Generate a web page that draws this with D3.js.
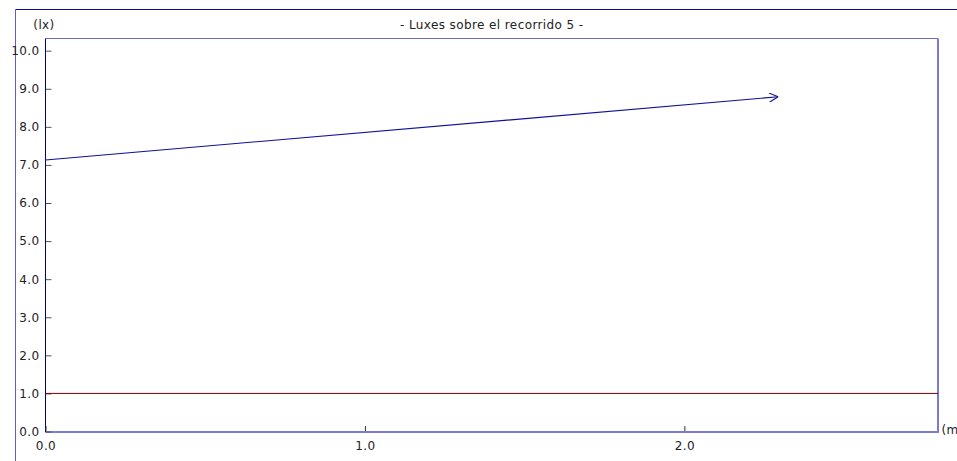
<!DOCTYPE html>
<html>
<head>
<meta charset="utf-8">
<script src="https://cdn.jsdelivr.net/npm/d3@7"></script>
<style>
  html, body { margin: 0; padding: 0; background: #fff; }
  svg { display: block; }
  text { font-family: "DejaVu Sans", Verdana, sans-serif; fill: #222; letter-spacing: 0.4px; }
</style>
</head>
<body>
<svg id="chart" width="957" height="461"></svg>
<script>
// ---- data ----
const title = "- Luxes sobre el recorrido 5 -";
const yUnit = "(lx)";
const xUnit = "(m)";
const yTicks = [0, 1, 2, 3, 4, 5, 6, 7, 8, 9, 10];
const xTicks = [0, 1, 2];
const pathX = [0, 2.294];
const pathY = [7.13, 8.79];
const thresholdX = [0, 2.794];
const thresholdY = [1.0, 1.0];
const xDomain = [0, 2.794];
const yDomain = [0, 10.32];

// ---- layout ----
const svg = d3.select("#chart");
const pLeft = 45.5, pRight = 938, pTop = 38.5, pBottom = 431.5;

const x = d3.scaleLinear().domain(xDomain).range([pLeft, pRight]);
const y = d3.scaleLinear().domain(yDomain).range([pBottom, pTop]);

// outer frame
svg.append("line").attr("x1", 15.5).attr("x2", 957).attr("y1", 9.5).attr("y2", 9.5)
  .attr("stroke", "#0a0a9c").attr("stroke-width", 1);
svg.append("line").attr("x1", 15.5).attr("x2", 15.5).attr("y1", 9.5).attr("y2", 461)
  .attr("stroke", "#5c5cd0").attr("stroke-width", 1);

// title
svg.append("text").attr("x", (pLeft + pRight) / 2).attr("y", 29)
  .attr("text-anchor", "middle").style("font-size", "12px").text(title);
svg.append("text").attr("x", 44).attr("y", 29)
  .attr("text-anchor", "middle").style("font-size", "12px").text(yUnit);
svg.append("text").attr("x", 941.5).attr("y", 433.5)
  .attr("text-anchor", "start").style("font-size", "12px").text(xUnit);

// plot frame (top/right/bottom)
svg.append("line").attr("x1", pLeft).attr("x2", pRight).attr("y1", pTop).attr("y2", pTop)
  .attr("stroke", "#6a6ad2").attr("stroke-width", 1);
svg.append("line").attr("x1", pRight).attr("x2", pRight).attr("y1", pTop).attr("y2", 433)
  .attr("stroke", "#7b7bd6").attr("stroke-width", 2);
svg.append("line").attr("x1", pLeft).attr("x2", pRight + 1).attr("y1", 432).attr("y2", 432)
  .attr("stroke", "#7b7bd6").attr("stroke-width", 2);

// y axis
const yAxis = d3.axisRight(y).tickValues(yTicks).tickSize(6).tickFormat(d3.format(".1f"));
const gy = svg.append("g").attr("transform", `translate(${pLeft},0)`).call(yAxis);
gy.select(".domain").remove();
gy.selectAll(".tick line").attr("stroke", "#555").attr("stroke-width", 1);
gy.selectAll(".tick text").attr("x", -6).attr("text-anchor", "end")
  .style("font-size", "12px").style("font-family", "DejaVu Sans, Verdana, sans-serif")
  .attr("fill", "#222");
svg.append("line").attr("x1", pLeft).attr("x2", pLeft).attr("y1", pTop).attr("y2", 432)
  .attr("stroke", "#000080").attr("stroke-width", 1);

// x axis
const xAxis = d3.axisTop(x).tickValues(xTicks).tickSize(5).tickFormat(d3.format(".1f"));
const gx = svg.append("g").attr("transform", `translate(0,431)`).call(xAxis);
gx.select(".domain").remove();
gx.selectAll(".tick line").attr("stroke", "#333").attr("stroke-width", 1);
gx.selectAll(".tick text").attr("y", 19).attr("dy", 0)
  .style("font-size", "12px").style("font-family", "DejaVu Sans, Verdana, sans-serif")
  .attr("fill", "#222");

// threshold line
const line = d3.line().x(d => x(d[0])).y(d => y(d[1]));
svg.append("path").datum(d3.zip(thresholdX, thresholdY))
  .attr("d", line).attr("fill", "none").attr("stroke", "#7a0000").attr("stroke-width", 1);

// arrow marker
svg.append("defs").append("marker")
  .attr("id", "arrow").attr("viewBox", "0 0 10 10").attr("refX", 10).attr("refY", 5)
  .attr("markerWidth", 10).attr("markerHeight", 10).attr("markerUnits", "userSpaceOnUse")
  .attr("orient", "auto")
  .append("path").attr("d", "M1,0.5 L10,5 L1,9.5").attr("fill", "none")
  .attr("stroke", "#10109a").attr("stroke-width", 1.1);

// route line
svg.append("path").datum(d3.zip(pathX, pathY))
  .attr("d", line).attr("fill", "none").attr("stroke", "#10109a").attr("stroke-width", 1.1)
  .attr("marker-end", "url(#arrow)");
</script>
</body>
</html>
